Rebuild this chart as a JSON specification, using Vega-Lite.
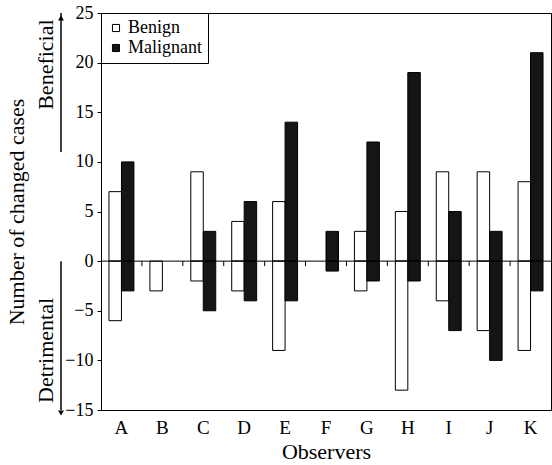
{
  "$schema": "https://vega.github.io/schema/vega-lite/v6.json",
  "width": 450,
  "height": 397,
  "autosize": {"type": "none"},
  "padding": {"left": 101, "top": 13, "right": 1, "bottom": 55},
  "background": "white",
  "config": {
    "view": {"stroke": "black", "strokeWidth": 1},
    "font": "Liberation Serif, serif",
    "axis": {
      "labelFont": "Liberation Serif, serif",
      "titleFont": "Liberation Serif, serif",
      "titleFontWeight": "normal",
      "labelColor": "black",
      "titleColor": "black",
      "domainColor": "black",
      "tickColor": "black",
      "grid": false
    },
    "legend": {"labelFont": "Liberation Serif, serif"}
  },
  "datasets": {
    "bars": [
      {"observer": "A", "type": "Benign", "value": 7},
      {"observer": "A", "type": "Benign", "value": -6},
      {"observer": "A", "type": "Malignant", "value": 10},
      {"observer": "A", "type": "Malignant", "value": -3},
      {"observer": "B", "type": "Benign", "value": -3},
      {"observer": "C", "type": "Benign", "value": 9},
      {"observer": "C", "type": "Benign", "value": -2},
      {"observer": "C", "type": "Malignant", "value": 3},
      {"observer": "C", "type": "Malignant", "value": -5},
      {"observer": "D", "type": "Benign", "value": 4},
      {"observer": "D", "type": "Benign", "value": -3},
      {"observer": "D", "type": "Malignant", "value": 6},
      {"observer": "D", "type": "Malignant", "value": -4},
      {"observer": "E", "type": "Benign", "value": 6},
      {"observer": "E", "type": "Benign", "value": -9},
      {"observer": "E", "type": "Malignant", "value": 14},
      {"observer": "E", "type": "Malignant", "value": -4},
      {"observer": "F", "type": "Malignant", "value": 3},
      {"observer": "F", "type": "Malignant", "value": -1},
      {"observer": "G", "type": "Benign", "value": 3},
      {"observer": "G", "type": "Benign", "value": -3},
      {"observer": "G", "type": "Malignant", "value": 12},
      {"observer": "G", "type": "Malignant", "value": -2},
      {"observer": "H", "type": "Benign", "value": 5},
      {"observer": "H", "type": "Benign", "value": -13},
      {"observer": "H", "type": "Malignant", "value": 19},
      {"observer": "H", "type": "Malignant", "value": -2},
      {"observer": "I", "type": "Benign", "value": 9},
      {"observer": "I", "type": "Benign", "value": -4},
      {"observer": "I", "type": "Malignant", "value": 5},
      {"observer": "I", "type": "Malignant", "value": -7},
      {"observer": "J", "type": "Benign", "value": 9},
      {"observer": "J", "type": "Benign", "value": -7},
      {"observer": "J", "type": "Malignant", "value": 3},
      {"observer": "J", "type": "Malignant", "value": -10},
      {"observer": "K", "type": "Benign", "value": 8},
      {"observer": "K", "type": "Benign", "value": -9},
      {"observer": "K", "type": "Malignant", "value": 21},
      {"observer": "K", "type": "Malignant", "value": -3}
    ],
    "zero": [{"value": 0}],
    "ticks": [
      {"observer": "B"}, {"observer": "C"}, {"observer": "D"}, {"observer": "E"}, {"observer": "F"},
      {"observer": "G"}, {"observer": "H"}, {"observer": "I"}, {"observer": "J"}, {"observer": "K"}
    ],
    "notes": [
      {"label": "Beneficial", "pos": 19.8},
      {"label": "Detrimental", "pos": -9}
    ],
    "arrows": [
      {"from": 25, "to": 11},
      {"from": 0, "to": -15}
    ],
    "heads": [
      {"pos": 24.5, "shape": "triangle-up"},
      {"pos": -15.3, "shape": "triangle-down"}
    ]
  },
  "layer": [
    {
      "data": {"name": "bars"},
      "mark": {"type": "bar", "stroke": "black", "strokeWidth": 1},
      "encoding": {
        "x": {
          "field": "observer",
          "type": "nominal",
          "scale": {"domain": ["A","B","C","D","E","F","G","H","I","J","K"], "paddingInner": 0, "paddingOuter": 0},
          "axis": {
            "title": "Observers",
            "titleFontSize": 22,
            "labelFontSize": 19,
            "labelAngle": 0,
            "ticks": false,
            "tickSize": 0,
            "labelPadding": 8,
            "titlePadding": 4
          }
        },
        "xOffset": {
          "field": "type",
          "type": "nominal",
          "scale": {"domain": ["Benign", "Malignant"], "paddingInner": 0, "paddingOuter": 0.64}
        },
        "y": {
          "field": "value",
          "type": "quantitative",
          "stack": null,
          "scale": {"domain": [-15, 25], "nice": false, "zero": false},
          "axis": {
            "values": [-15, -10, -5, 0, 5, 10, 15, 20, 25],
            "tickSize": 4,
            "labelPadding": 4,
            "labelFontSize": 18,
            "title": "Number of changed cases",
            "titleFontSize": 22,
            "titleX": -78,
            "titleBaseline": "alphabetic"
          }
        },
        "fill": {
          "field": "type",
          "type": "nominal",
          "scale": {"domain": ["Benign", "Malignant"], "range": ["white", "#151515"]},
          "legend": {
            "title": null,
            "orient": "top-left",
            "offset": 0,
            "labelFontSize": 18,
            "labelColor": "black",
            "labelOffset": 3,
            "symbolType": "square",
            "symbolSize": 50,
            "symbolStrokeColor": "black",
            "symbolStrokeWidth": 1,
            "strokeColor": "black",
            "fillColor": "white",
            "padding": 6,
            "rowPadding": 2
          }
        }
      }
    },
    {
      "data": {"name": "zero"},
      "mark": {"type": "rule", "color": "black", "strokeWidth": 1},
      "encoding": {"y": {"field": "value", "type": "quantitative"}}
    },
    {
      "data": {"name": "ticks"},
      "mark": {"type": "rule", "color": "black", "strokeWidth": 1},
      "encoding": {
        "x": {"field": "observer", "type": "nominal", "bandPosition": 0},
        "y": {"datum": 0},
        "y2": {"datum": -0.5}
      }
    },
    {
      "data": {"name": "arrows"},
      "mark": {"type": "rule", "color": "black", "strokeWidth": 1.5, "xOffset": -40, "clip": false},
      "encoding": {
        "x": {"datum": "A", "type": "nominal", "bandPosition": 0},
        "y": {"field": "from", "type": "quantitative"},
        "y2": {"field": "to"}
      }
    },
    {
      "data": {"name": "heads"},
      "mark": {"type": "point", "filled": true, "color": "black", "size": 35, "opacity": 1, "xOffset": -40},
      "encoding": {
        "x": {"datum": "A", "type": "nominal", "bandPosition": 0},
        "y": {"field": "pos", "type": "quantitative"},
        "shape": {"field": "shape", "type": "nominal", "scale": null, "legend": null}
      }
    },
    {
      "data": {"name": "notes"},
      "mark": {"type": "text", "angle": 270, "align": "center", "baseline": "alphabetic", "dy": -48, "fontSize": 22, "font": "Liberation Serif, serif", "color": "black"},
      "encoding": {
        "x": {"datum": "A", "type": "nominal", "bandPosition": 0},
        "y": {"field": "pos", "type": "quantitative"},
        "text": {"field": "label"}
      }
    }
  ]
}
